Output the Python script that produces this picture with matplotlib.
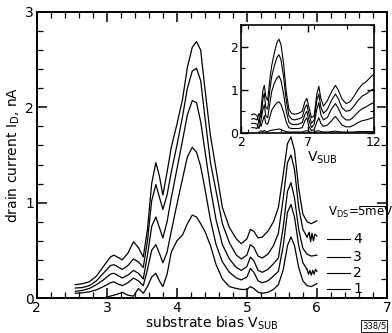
import numpy as np
import matplotlib
matplotlib.use("Agg")
import matplotlib.pyplot as plt
from matplotlib.ticker import MultipleLocator

plt.rcParams['font.family'] = ['DejaVu Sans']
plt.rcParams['mathtext.default'] = 'regular'

nan = np.nan
# ---------------- main panel data ----------------
x_main = [2.55, 2.65, 2.75, 2.85, 2.95, 3.05, 3.10, 3.15, 3.22, 3.30, 3.38, 3.45, 3.52, 3.58,
          3.64, 3.70, 3.75, 3.80, 3.86, 3.92, 4.00, 4.08, 4.15, 4.22, 4.28, 4.34, 4.40, 4.48,
          4.56, 4.65, 4.75, 4.85, 4.92, 5.00, 5.05, 5.10, 5.16, 5.22, 5.30, 5.38, 5.45, 5.52,
          5.58, 5.63, 5.68, 5.74, 5.80, 5.86, 5.92, 6.00]

i_5meV = [0.14, 0.15, 0.17, 0.23, 0.33, 0.43, 0.45, 0.43, 0.40, 0.47, 0.59, 0.53, 0.43, 0.72,
          1.20, 1.42, 1.28, 1.08, 1.32, 1.58, 1.82, 2.08, 2.42, 2.63, 2.69, 2.60, 2.20, 1.70,
          1.35, 0.95, 0.74, 0.62, 0.57, 0.62, 0.72, 0.70, 0.63, 0.64, 0.70, 0.80, 0.95, 1.30,
          1.62, 1.69, 1.55, 1.15, 0.88, 0.80, 0.78, 0.81]
i_4meV = [0.105, 0.11, 0.13, 0.18, 0.26, 0.34, 0.35, 0.33, 0.30, 0.34, 0.41, 0.38, 0.32, 0.60,
          1.02, 1.19, 1.06, 0.93, 1.08, 1.32, 1.60, 1.90, 2.20, 2.38, 2.41, 2.28, 1.90, 1.42,
          1.12, 0.78, 0.58, 0.45, 0.41, 0.45, 0.56, 0.53, 0.44, 0.42, 0.46, 0.55, 0.68, 1.05,
          1.42, 1.50, 1.35, 0.95, 0.72, 0.64, nan, nan]
i_3meV = [0.07, 0.08, 0.10, 0.14, 0.19, 0.25, 0.26, 0.24, 0.21, 0.24, 0.29, 0.26, 0.20, 0.45,
          0.75, 0.85, 0.74, 0.63, 0.80, 1.05, 1.35, 1.65, 1.92, 2.07, 2.05, 1.85, 1.55, 1.15,
          0.82, 0.56, 0.41, 0.32, 0.29, 0.33, 0.43, 0.39, 0.29, 0.27, 0.30, 0.36, 0.42, 0.75,
          1.12, 1.21, 1.05, 0.72, 0.52, 0.46, 0.44, 0.45]
i_2meV = [0.05, 0.055, 0.065, 0.085, 0.12, 0.16, 0.17, 0.15, 0.13, 0.16, 0.21, 0.18, 0.13, 0.30,
          0.50, 0.56, 0.47, 0.37, 0.48, 0.70, 0.98, 1.25, 1.48, 1.58, 1.53, 1.38, 1.15, 0.82,
          0.56, 0.38, 0.27, 0.21, 0.19, 0.22, 0.31, 0.27, 0.18, 0.16, 0.18, 0.23, 0.28, 0.55,
          0.90, 0.98, 0.85, 0.55, 0.37, 0.30, nan, nan]
i_1meV = [nan, nan, nan, nan, 0.00, 0.02, 0.03, 0.04, 0.06, 0.03, 0.02, 0.10, 0.05, 0.12,
          0.22, 0.26, 0.18, 0.12, 0.25, 0.48, 0.60, 0.66, 0.78, 0.87, 0.85, 0.78, 0.70, 0.55,
          0.35, 0.20, 0.12, 0.10, 0.09, 0.09, 0.12, 0.10, 0.06, 0.05, 0.06, 0.09, 0.14, 0.30,
          0.55, 0.64, 0.55, 0.32, 0.18, 0.13, 0.12, 0.15]

# noisy tails at the right end
tail4_x = [5.86, 5.89, 5.91, 5.93, 5.95, 5.97, 6.00]
tail4_y = [0.64, 0.69, 0.59, 0.68, 0.60, 0.67, 0.65]
tail2_x = [5.86, 5.88, 5.90, 5.92, 5.94, 5.96, 5.98, 6.00]
tail2_y = [0.30, 0.25, 0.29, 0.24, 0.29, 0.25, 0.30, 0.28]

curve_labels = ['4', '3', '2', '1']
label_y = [0.62, 0.43, 0.26, 0.10]

# ---------------- inset data ----------------
x_ins = [2.8, 3.0, 3.2, 3.35, 3.5, 3.65, 3.75, 3.85, 4.0, 4.15, 4.3, 4.5, 4.7, 4.85, 5.0,
         5.2, 5.4, 5.6, 5.8, 6.0, 6.3, 6.6, 6.8, 6.95, 7.1, 7.3, 7.5, 7.7, 7.85, 8.0, 8.2,
         8.5, 8.8, 9.1, 9.3, 9.6, 9.9, 10.2, 10.5, 10.8, 11.1, 11.4, 11.7, 12.0]
ins_a = [0.42, 0.44, 0.40, 0.25, 0.55, 1.00, 1.10, 0.85, 0.75, 1.20, 1.55, 1.85, 2.10, 2.17, 2.05,
         1.60, 0.95, 0.55, 0.45, 0.43, 0.45, 0.50, 0.72, 0.80, 0.60, 0.35, 0.40, 0.90, 1.08, 0.80, 0.62,
         0.75, 0.95, 1.10, 1.00, 0.78, 0.68, 0.72, 0.85, 1.00, 1.12, 1.18, 1.28, 1.36]
ins_b = [0.32, 0.33, 0.30, 0.45, 0.35, 0.80, 0.92, 0.60, 0.55, 0.95, 1.30, 1.55, 1.75, 1.81, 1.70,
         1.30, 0.75, 0.40, 0.32, 0.30, 0.32, 0.36, 0.58, 0.65, 0.45, 0.22, 0.30, 0.75, 0.90, 0.60, 0.45,
         0.55, 0.75, 0.90, 0.80, 0.58, 0.50, 0.52, 0.62, 0.75, 0.85, 0.90, 0.97, 1.02]
ins_c = [0.22, 0.22, 0.20, 0.10, 0.30, 0.55, 0.65, 0.40, 0.35, 0.65, 0.95, 1.15, 1.28, 1.32, 1.22,
         0.90, 0.50, 0.25, 0.20, 0.19, 0.20, 0.24, 0.42, 0.50, 0.30, 0.12, 0.20, 0.55, 0.70, 0.42, 0.30,
         0.36, 0.55, 0.68, 0.58, 0.38, 0.30, 0.30, 0.38, 0.48, 0.56, 0.60, 0.66, 0.70]
ins_d = [0.12, 0.12, 0.10, 0.30, 0.15, 0.30, 0.40, 0.22, 0.20, 0.35, 0.52, 0.62, 0.70, 0.72, 0.66,
         0.48, 0.25, 0.12, 0.10, 0.10, 0.10, 0.12, 0.28, 0.35, 0.15, 0.05, 0.08, 0.25, 0.35, 0.22, 0.15,
         0.18, 0.28, 0.38, 0.30, 0.18, 0.14, 0.14, 0.18, 0.24, 0.28, 0.30, 0.33, 0.36]
ins_e = [nan, nan, nan, 0.02, 0.05, 0.03, 0.06, 0.03, 0.03, 0.05, 0.06, 0.07, 0.08, 0.09, 0.07,
         0.05, 0.03, 0.02, 0.02, 0.02, 0.02, 0.02, 0.04, 0.05, 0.03, 0.01, 0.02, 0.04, 0.05, 0.03, 0.02,
         0.02, 0.03, 0.04, 0.03, 0.02, 0.02, 0.02, 0.02, 0.03, 0.03, 0.03, 0.03, 0.03]

# ---------------- figure ----------------
fig = plt.figure(figsize=(3.92, 3.33), dpi=100)
ax = fig.add_axes([0.094, 0.105, 0.893, 0.859])
lw = 0.9
for yy in (i_5meV, i_4meV, i_3meV, i_2meV, i_1meV):
    ax.plot(x_main, yy, color='black', lw=lw)
ax.plot(tail4_x, tail4_y, color='black', lw=lw)
ax.plot(tail2_x, tail2_y, color='black', lw=lw)

for lab, ly in zip(curve_labels, label_y):
    ax.plot([6.14, 6.47], [ly, ly], color='black', lw=0.8)
    ax.text(6.52, ly, lab, ha='left', va='center', fontsize=10)
ax.text(6.16, 0.90, 'V$_{DS}$=5meV', ha='left', va='center', fontsize=8.5)
ax.plot([6.62, 6.98], [0.97, 0.97], color='black', lw=0.7)

ax.set_xlim(2, 7)
ax.set_ylim(0, 3)
ax.xaxis.set_major_locator(MultipleLocator(1))
ax.xaxis.set_minor_locator(MultipleLocator(0.2))
ax.yaxis.set_major_locator(MultipleLocator(1))
ax.yaxis.set_minor_locator(MultipleLocator(0.2))
ax.tick_params(which='both', direction='in', top=True, right=True, labelsize=10, pad=2)
ax.tick_params(which='major', length=7, width=1.1)
ax.tick_params(which='minor', length=4, width=0.9)
for s in ax.spines.values():
    s.set_linewidth(1.4)
ax.set_xlabel('substrate bias V$_{SUB}$', fontsize=10, labelpad=0)
ax.set_ylabel('drain current I$_{D}$, nA', fontsize=10, labelpad=2)

# inset
axi = fig.add_axes([0.615, 0.601, 0.339, 0.324])
for yy in (ins_a, ins_b, ins_c, ins_d, ins_e):
    axi.plot(x_ins, yy, color='black', lw=0.8)
axi.set_xlim(2, 12)
axi.set_ylim(0, 2.5)
axi.set_xticks([2, 7, 12])
axi.xaxis.set_minor_locator(MultipleLocator(2.5))
axi.set_yticks([0, 1, 2])
axi.yaxis.set_minor_locator(MultipleLocator(0.5))
axi.tick_params(which='both', direction='in', top=True, right=True, labelsize=9, pad=2)
axi.tick_params(which='major', length=5, width=1.0)
axi.tick_params(which='minor', length=3, width=0.8)
for s in axi.spines.values():
    s.set_linewidth(1.2)
fig.text(322 / 392, 1 - 158 / 333, 'V$_{SUB}$', ha='center', va='center', fontsize=10)

fig.text(0.985, 0.008, '338/5', ha='right', va='bottom', fontsize=6,
         bbox=dict(boxstyle='square,pad=0.15', fc='white', ec='black', lw=0.6))

fig.savefig('out.png', dpi=100)
